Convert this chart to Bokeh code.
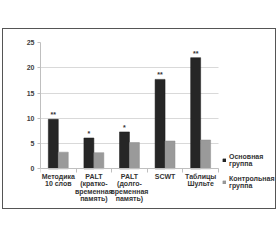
from bokeh.plotting import figure
from bokeh.models import (ColumnDataSource, Range1d, FixedTicker, Legend,
                          LegendItem, InlineStyleSheet)
from bokeh.core.properties import value
from bokeh.embed import file_html
from bokeh.resources import INLINE

categories = ["Методика\n10 слов", "PALT\n(кратко-\nвременная\nпамять)",
              "PALT\n(долго-\nвременная\nпамять)", "SCWT", "Таблицы\nШульте"]
main_group = [9.8, 6.1, 7.3, 17.7, 22.0]
control_group = [3.3, 3.2, 5.2, 5.5, 5.7]
stars = ["**", "*", "*", "**", "**"]
series_names = ["Основная\nгруппа", "Контрольная\nгруппа"]
y_ticks = [0, 5, 10, 15, 20, 25]

FONT = "Liberation Sans"
n = len(categories)
centers = [i + 0.5 for i in range(n)]

src = ColumnDataSource(dict(
    xm=[c - 0.14 for c in centers],
    xc=[c + 0.14 for c in centers],
    main=main_group, control=control_group, stars=stars,
))

# frame spans the whole boxed area; the bars occupy x 0..5, y 0..25
p = figure(width=280, height=240, output_backend="svg", toolbar_location=None,
           x_range=Range1d(0, 6.66), y_range=Range1d(-8.25, 25),
           min_border_left=40, min_border_right=3, min_border_top=42,
           min_border_bottom=30)
p.outline_line_color = None
p.background_fill_color = "white"
p.border_fill_color = "white"

r1 = p.vbar(x="xm", top="main", width=0.28, source=src,
            fill_color="#262626", line_color="#1a1a1a", line_width=0.5)
r2 = p.vbar(x="xc", top="control", width=0.28, source=src,
            fill_color="#9a9a9a", line_color="#8c8c8c", line_width=0.5)

p.text(x="xm", y="main", text="stars", source=src, y_offset=-1,
       text_align="center", text_baseline="bottom",
       text_font=value(FONT), text_font_size="7px", text_font_style="bold",
       text_color="#333333")

# x axis drawn at y = 0
p.xaxis.fixed_location = 0
p.xaxis.bounds = (0, n)
p.xaxis.ticker = FixedTicker(ticks=centers, minor_ticks=list(range(n + 1)))
p.xaxis.major_label_overrides = {c: lab for c, lab in zip(centers, categories)}
p.xaxis.major_tick_out = 0
p.xaxis.major_tick_in = 0
p.xaxis.minor_tick_out = 4
p.xaxis.minor_tick_in = 0
p.xaxis.minor_tick_line_color = "#bfbfbf"
p.xaxis.axis_line_color = "#bfbfbf"
p.xaxis.major_label_standoff = 0
p.xaxis.major_label_text_font = FONT
p.xaxis.major_label_text_font_size = "7px"
p.xaxis.major_label_text_font_style = "bold"
p.xaxis.major_label_text_color = "#333333"
p.xaxis.major_label_text_line_height = 1.05
p.xgrid.grid_line_color = None

# y axis
p.yaxis.bounds = (0, 25)
p.yaxis.ticker = FixedTicker(ticks=y_ticks)
p.yaxis.major_tick_out = 3
p.yaxis.major_tick_in = 0
p.yaxis.minor_tick_line_color = None
p.yaxis.major_tick_line_color = "#bfbfbf"
p.yaxis.axis_line_color = "#bfbfbf"
p.yaxis.major_label_standoff = 3
p.yaxis.major_label_text_font = FONT
p.yaxis.major_label_text_font_size = "7px"
p.yaxis.major_label_text_font_style = "bold"
p.yaxis.major_label_text_color = "#404040"
p.ygrid.grid_line_color = "#d9d9d9"
p.ygrid.grid_line_width = 1
p.ygrid.bounds = (0, 25)
p.ygrid.cross_bounds = (0, n)

legend = Legend(items=[LegendItem(label=series_names[0], renderers=[r1]),
                       LegendItem(label=series_names[1], renderers=[r2])],
                location=(182, 21), orientation="vertical",
                glyph_width=4, glyph_height=4, label_standoff=3,
                label_text_font=FONT, label_text_font_size="7px",
                label_text_font_style="bold", label_text_color="#333333",
                label_text_line_height=1.05,
                spacing=8, padding=0, margin=0,
                border_line_color=None, background_fill_alpha=0)
p.add_layout(legend, "center")

# outer frame of the chart
p.stylesheets = [InlineStyleSheet(css="""
:host { position: relative; }
:host::after { content: ""; position: absolute; left: 2px; top: 28px;
  width: 274px; height: 181px; border: 1px solid #555555;
  pointer-events: none; box-sizing: border-box; }
""")]

open("out.html", "w").write(file_html(p, INLINE))
